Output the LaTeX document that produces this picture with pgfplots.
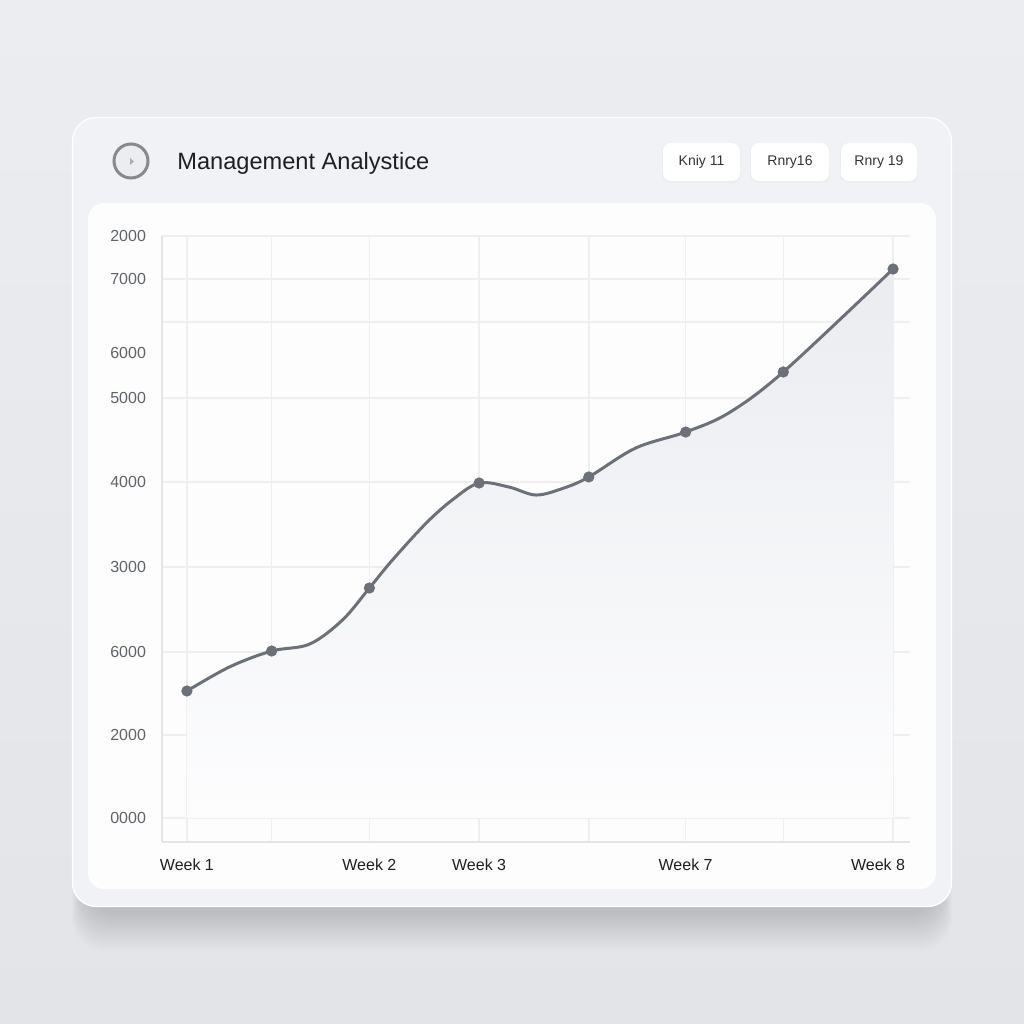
\documentclass[border=0pt]{standalone}
\usepackage{pgfplots}
\pgfplotsset{compat=1.18}
\usepackage{fontspec}
\setmainfont{Liberation Sans}
\definecolor{bgtop}{HTML}{EBEDF0}
\definecolor{bgbot}{HTML}{E2E4E8}
\definecolor{card}{HTML}{F1F2F5}
\definecolor{panel}{HTML}{FDFDFE}
\definecolor{gridc}{HTML}{EFEFF0}
\definecolor{linec}{HTML}{6C7179}
\definecolor{tickc}{HTML}{5F6368}
\definecolor{iconc}{HTML}{868990}
\definecolor{fillc}{HTML}{EAECF0}
\definecolor{titlec}{HTML}{1E1F22}

\pgfplotstableread{
x y
0.000 1512
0.425 1800
0.840 1988
1.216 2070
1.542 2357
1.809 2738
2.037 3071
2.373 3512
2.630 3786
2.897 3988
3.194 3940
3.461 3845
3.738 3929
3.984 4060
4.449 4405
4.944 4595
5.369 4821
5.912 5310
7.000 6536
}\curve

\pgfplotstableread{
x y
0.000 1512
0.840 1988
1.809 2738
2.897 3988
3.984 4060
4.944 4595
5.912 5310
7.000 6536
}\points

\begin{document}
\begin{tikzpicture}
\begin{scope}[x=0.5pt,y=0.5pt]
\shade[top color=bgtop,bottom color=bgbot] (0,0) rectangle (1024,1024);
% soft shadow under card
\foreach \i in {1,...,20}{
  \fill[black,opacity=0.006,rounded corners=16pt] (84-\i*0.6, 117-4-\i*2) rectangle (940+\i*0.6, 600);
}
% card
\fill[card, rounded corners=12pt] (72,117) rectangle (952,907);
\draw[white, line width=0.6pt, rounded corners=12pt] (72.5,117.5) rectangle (951.5,906.5);
% inner panel
\fill[panel, rounded corners=8pt] (88,135) rectangle (936,821);
% icon
\draw[iconc, line width=1.5pt, fill=card!96!gray] (131,863) circle [radius=8.5pt];
\fill[iconc!70] (130,866) -- (130,859) -- (134,862.5) -- cycle;
% title
\node[anchor=west, inner sep=0pt, text=titlec, font=\fontsize{11.8pt}{13pt}\selectfont] at (177,861) {Management Analystice};
% buttons
\foreach \a/\b/\t in {663/740/{Kniy 11}, 751/829/{Rnry16}, 841/917/{Rnry 19}}{
  \fill[black, opacity=0.02, rounded corners=4pt] (\a-1,841) rectangle (\b+1,881);
  \fill[white, rounded corners=4pt] (\a,843) rectangle (\b,881);
  \node[inner sep=0pt, text=black!80, font=\fontsize{7pt}{8pt}\selectfont] at ({(\a+\b)/2},862) {\t};
}
\end{scope}

\begin{axis}[
  at={(81pt,91pt)}, anchor=south west,
  width=374pt, height=303pt, scale only axis,
  xmin=-0.247, xmax=7.168, ymin=-286, ymax=6929,
  axis x line=bottom, axis y line=left,
  axis line style={-, draw=gridc!90!gray, line width=0.75pt},
  major tick length=0,
  grid=major, major grid style={draw=gridc, line width=0.75pt},
  xtick={0,0.840,1.809,2.897,3.984,4.944,5.912,7.0},
  xticklabels={Week 1,,Week 2,Week 3,,Week 7,,\hspace*{-15pt}Week 8},
  ytick={0,988,1976,2988,4000,5000,5905,6417,6929},
  yticklabels={0000,2000,6000,3000,4000,5000,,7000,2000},
  extra y ticks={5536}, extra y tick labels={6000},
  extra y tick style={grid=none},
  /pgf/number format/assume math mode=true,
  yticklabel style={font=\fontsize{8pt}{9pt}\selectfont, text=tickc, xshift=-4.5pt},
  xticklabel style={font=\fontsize{8pt}{9pt}\selectfont, text=black!88, yshift=-5pt},
]
\addplot[draw=none, top color=fillc, bottom color=panel, smooth, tension=0.55] table[x=x,y=y] {\curve} \closedcycle;
\addplot[linec, line width=1.5pt, smooth, tension=0.55] table[x=x,y=y] {\curve};
\addplot[only marks, mark=*, mark size=2.6pt, mark options={fill=linec, draw=linec}] table[x=x,y=y] {\points};
\end{axis}
\end{tikzpicture}
\end{document}
